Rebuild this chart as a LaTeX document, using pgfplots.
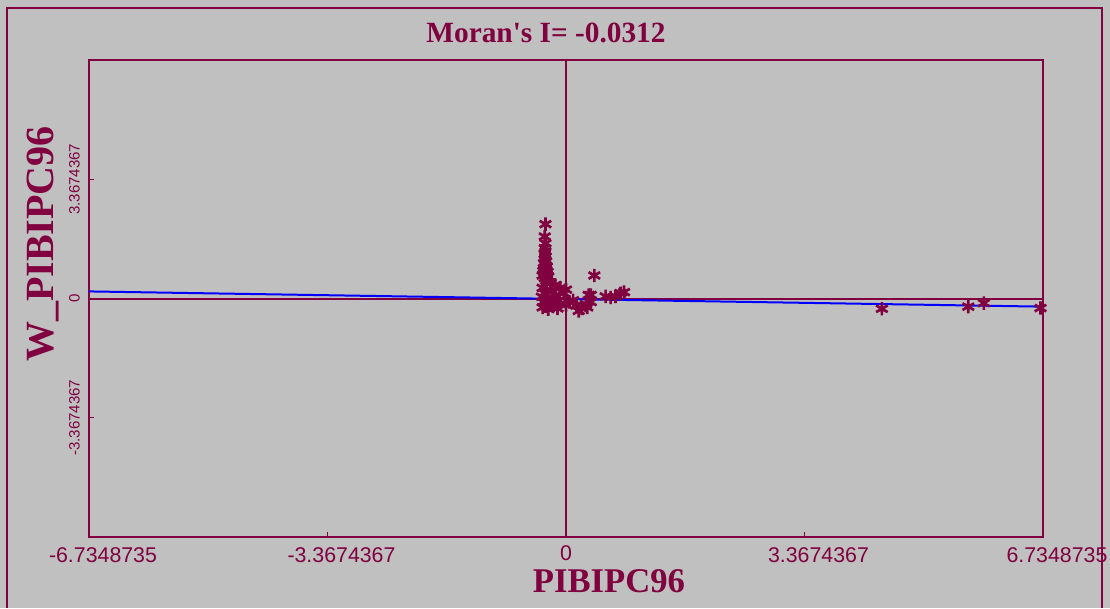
\documentclass[border=0pt]{standalone}
\usepackage{fontspec}
\setmainfont{Liberation Serif}
\newfontfamily\sansf{Liberation Sans}
\usepackage{pgfplots}
\pgfplotsset{compat=1.18}
\definecolor{moranred}{HTML}{800040}
\definecolor{panelgray}{HTML}{C0C0C0}

% scatter of PIBIPC96 against its spatial lag
\pgfplotstableread{
x y
-0.29 2.10
-0.30 1.75
-0.29 1.56
-0.30 1.42
-0.29 1.33
-0.30 1.25
-0.29 1.18
-0.30 1.11
-0.28 1.05
-0.31 1.00
-0.29 0.95
-0.27 0.90
-0.31 0.86
-0.28 0.82
-0.32 0.78
-0.26 0.75
-0.30 0.72
-0.27 0.68
-0.33 0.65
-0.25 0.62
-0.30 0.58
-0.28 0.50
-0.22 0.45
-0.15 0.38
-0.08 0.30
0.00 0.25
-0.03 0.15
-0.20 0.22
-0.33 0.30
-0.30 0.15
-0.34 0.05
-0.25 0.02
-0.15 0.08
-0.10 -0.05
-0.32 -0.10
-0.22 -0.12
-0.28 -0.22
-0.18 -0.20
-0.33 -0.25
-0.08 -0.15
-0.25 -0.30
-0.12 -0.28
0.05 -0.10
0.00 -0.18
0.10 -0.05
0.15 -0.20
0.22 -0.28
0.30 -0.25
0.18 -0.35
0.28 -0.16
0.35 -0.10
0.32 0.10
0.35 0.10
0.40 0.65
0.56 0.06
0.63 0.03
0.70 0.06
0.77 0.15
0.82 0.18
4.46 -0.29
5.68 -0.23
5.90 -0.13
6.70 -0.27
}\morandata

\begin{document}
\begin{tikzpicture}
\path[use as bounding box] (-66.75pt,-53.25pt) rectangle (765.75pt,402.75pt);
\fill[panelgray] (-66.75pt,-53.25pt) rectangle (765.75pt,402.75pt);
\draw[moranred, line width=1.5pt] (-61.5pt,-53.25pt) -- (-61.5pt,396.75pt) -- (759.75pt,396.75pt) -- (759.75pt,-53.25pt);
\begin{axis}[
  scale only axis, width=715.5pt, height=357.75pt,
  xmin=-6.7348735, xmax=6.7348735, ymin=-6.7348735, ymax=6.7348735,
  clip=false,
  axis line style={moranred, line width=1.5pt},
  tick style={moranred, line width=1pt},
  tick align=inside, tick pos=left, major tick length=4pt,
  /pgf/number format/assume math mode=true,
  xtick={-6.7348735,-3.3674367,3.3674367,6.7348735},
  xticklabels={-6.7348735,-3.3674367,3.3674367,6.7348735},
  extra x ticks={0}, extra x tick labels={0},
  extra x tick style={xticklabel style={xshift=-10.5pt, yshift=2pt}},
  ytick={-3.3674367,0,3.3674367},
  yticklabels={-3.3674367,0,3.3674367},
  xticklabel style={font=\sansf\fontsize{16}{16}\selectfont, text=moranred, anchor=north, inner sep=0pt, xshift=10.5pt},
  xticklabel shift=8pt,
  yticklabel style={font=\sansf\fontsize{11.3}{11.3}\selectfont, text=moranred, rotate=90, anchor=south, inner sep=0pt},
  yticklabel shift=6.75pt,
  title={Moran\textquotesingle s I= -0.0312},
  every axis title/.style={at={(axis description cs:0.479,1.0377)}, anchor=base,
    font=\bfseries\fontsize{22}{22}\selectfont, text=moranred},
  xlabel={PIBIPC96},
  every axis x label/.style={at={(axis description cs:0.545,-0.1172)}, anchor=base,
    font=\bfseries\fontsize{26}{26}\selectfont, text=moranred},
  ylabel={W\_PIBIPC96},
  every axis y label/.style={at={(axis description cs:-0.0377,0.614)}, anchor=base, rotate=90,
    font=\bfseries\fontsize{30}{30}\selectfont, text=moranred},
]
\draw[moranred, line width=1.5pt] (axis cs:0,-6.7348735) -- (axis cs:0,6.7348735);
\draw[moranred, line width=1.5pt] (axis cs:-6.7348735,0) -- (axis cs:6.7348735,0);
\addplot[blue, line width=1.5pt] coordinates {(-6.7348735,0.20) (6.7348735,-0.23)};
\addplot[only marks, mark=asterisk, mark size=5pt, moranred, mark options={line width=2pt}] table[x=x, y=y] {\morandata};
\end{axis}
\end{tikzpicture}
\end{document}
